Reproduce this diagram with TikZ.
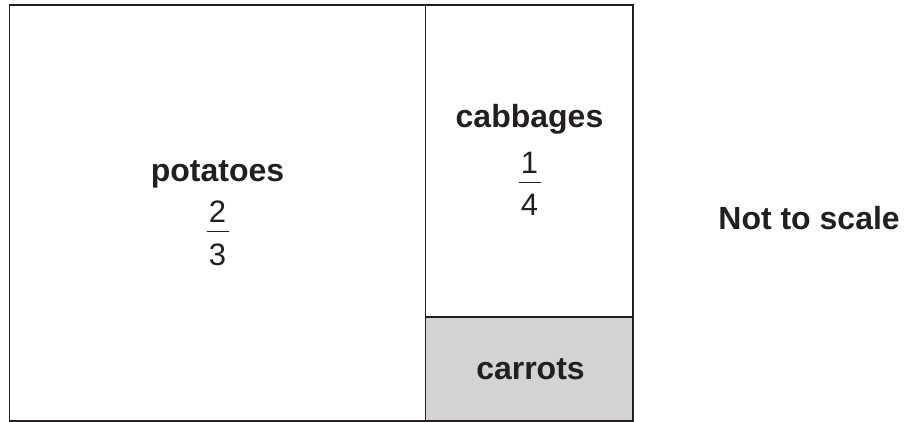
\documentclass[tikz,border=0pt]{standalone}
\usepackage{fontspec}
\setmainfont{Liberation Sans}
\definecolor{trait}{HTML}{231F20}
\definecolor{gris}{HTML}{D1D3D4}
\begin{document}
\begin{tikzpicture}[x=0.5pt,y=-0.5pt]
\tikzset{etiq/.style={font=\fontsize{16}{19}\selectfont\bfseries, text=trait, anchor=base, inner sep=0pt},
chiffre/.style={font=\fontsize{15.5}{18}\selectfont, text=trait, anchor=base, inner sep=0pt},
barre/.style={draw=trait, line width=0.55pt}}
\useasboundingbox (0,0) rectangle (904,422);
\fill[gris] (425.5,317) rectangle (632.7,421);
\draw[trait, line width=0.8pt] (9.3,5) rectangle (632.7,421);
\draw[trait, line width=0.8pt] (425.5,5) -- (425.5,421);
\draw[trait, line width=0.8pt] (425.5,317) -- (632.7,317);
\node[etiq] (L1) at (217.5,182) {potatoes};
\node[chiffre] (N1) at (217.5,223) {2};
\node[chiffre] (D1) at (217.5,265) {3};
\draw[barre] (206.5,231.7) -- (228.5,231.7);
\node[etiq] (L2) at (529.5,128) {cabbages};
\node[chiffre] (N2) at (529.5,174) {1};
\node[chiffre] (D2) at (529.5,216) {4};
\draw[barre] (518.5,182.3) -- (540.5,182.3);
\node[etiq] (L3) at (530.5,379) {carrots};
\node[etiq, anchor=base west] (L4) at (718,230) {Not to scale};
\end{tikzpicture}
\end{document}
